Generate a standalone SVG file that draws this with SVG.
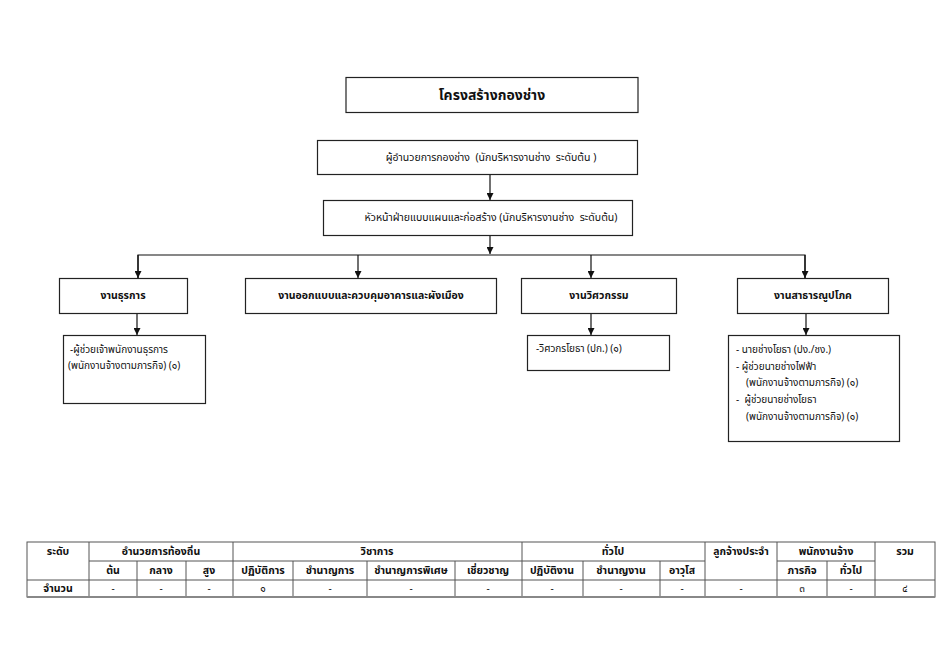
<svg xmlns="http://www.w3.org/2000/svg" width="950" height="672" viewBox="0 0 950 672" xml:space="preserve">
<style>
text{font-family:"Noto Sans Thai","Tahoma","Leelawadee UI","DejaVu Sans","Noto Sans",sans-serif;fill:#111;white-space:pre;}
.box{fill:#fff;stroke:#222;stroke-width:1.2;}
.t{font-size:10.5px;text-anchor:middle;}
.b{font-size:10.5px;font-weight:bold;text-anchor:middle;}
.l{font-size:10px;}
.title{font-size:14px;font-weight:bold;text-anchor:middle;}
.conn{stroke:#111;stroke-width:1.2;fill:none;}
.grid{stroke:#555;stroke-width:1;fill:none;}
.th{font-size:10.5px;font-weight:bold;text-anchor:middle;}
.td{font-size:10px;text-anchor:middle;}
</style>
<defs>
<marker id="arr" viewBox="0 0 10 10" refX="10" refY="5" markerWidth="7" markerHeight="7" markerUnits="userSpaceOnUse" orient="auto">
<path d="M0,0 L10,5 L0,10 z" fill="#111"/>
</marker>
</defs>
<rect width="950" height="672" fill="#fff"/>

<g id="connectors">
<line class="conn" x1="490" y1="174" x2="490" y2="200" marker-end="url(#arr)"/>
<line class="conn" x1="490" y1="235" x2="490" y2="254" marker-end="url(#arr)"/>
<polyline class="conn" points="138,278 138,255 805,255 805,278"/>
<line class="conn" x1="138" y1="255" x2="138" y2="278" marker-end="url(#arr)"/>
<line class="conn" x1="358" y1="255" x2="358" y2="278" marker-end="url(#arr)"/>
<line class="conn" x1="591" y1="255" x2="591" y2="278" marker-end="url(#arr)"/>
<line class="conn" x1="805" y1="255" x2="805" y2="278" marker-end="url(#arr)"/>
<line class="conn" x1="137" y1="313" x2="137" y2="335" marker-end="url(#arr)"/>
<line class="conn" x1="591" y1="313" x2="591" y2="335" marker-end="url(#arr)"/>
<line class="conn" x1="806" y1="313" x2="806" y2="335" marker-end="url(#arr)"/>
</g>

<g id="title">
<rect class="box" x="346" y="77.5" width="292" height="35"/>
<text class="title" x="492" y="100">โครงสร้างกองช่าง</text>
</g>
<g id="director">
<rect class="box" x="317.5" y="140.5" width="320" height="34"/>
<text class="t" x="491" y="161">ผู้อำนวยการกองช่าง  (นักบริหารงานช่าง  ระดับต้น )</text>
</g>
<g id="head">
<rect class="box" x="323.5" y="200.5" width="309" height="35"/>
<text class="t" x="491" y="221">หัวหน้าฝ่ายแบบแผนและก่อสร้าง (นักบริหารงานช่าง  ระดับต้น)</text>
</g>
<g id="admin">
<rect class="box" x="59.5" y="278.5" width="128" height="35"/>
<text class="b" x="123" y="299">งานธุรการ</text>
</g>
<g id="design">
<rect class="box" x="245.5" y="278.5" width="251" height="35"/>
<text class="b" x="371" y="299">งานออกแบบและควบคุมอาคารและผังเมือง</text>
</g>
<g id="engineering">
<rect class="box" x="521.5" y="278.5" width="155" height="35"/>
<text class="b" x="599" y="299">งานวิศวกรรม</text>
</g>
<g id="utilities">
<rect class="box" x="737.5" y="278.5" width="151" height="35"/>
<text class="b" x="813" y="299">งานสาธารณูปโภค</text>
</g>
<g id="admin-staff">
<rect class="box" x="63.5" y="335.5" width="142" height="68"/>
<text class="l" x="70" y="353">-ผู้ช่วยเจ้าพนักงานธุรการ</text>
<text class="l" x="68" y="369">(พนักงานจ้างตามภารกิจ) (๑)</text>
</g>
<g id="eng-staff">
<rect class="box" x="527.5" y="335.5" width="142" height="35"/>
<text class="l" x="536" y="352">-วิศวกรโยธา (ปก.) (๑)</text>
</g>
<g id="util-staff">
<rect class="box" x="728.5" y="335.5" width="171" height="106"/>
<text class="l" x="736" y="353">- นายช่างโยธา (ปง./ชง.)</text>
<text class="l" x="736" y="370">- ผู้ช่วยนายช่างไฟฟ้า</text>
<text class="l" x="746" y="386">(พนักงานจ้างตามภารกิจ) (๑)</text>
<text class="l" x="736" y="403">-  ผู้ช่วยนายช่างโยธา</text>
<text class="l" x="746" y="420">(พนักงานจ้างตามภารกิจ) (๑)</text>
</g>

<g id="table">
<rect class="grid" x="27" y="542" width="908" height="55"/>
<line class="grid" x1="89" y1="561" x2="705" y2="561"/>
<line class="grid" x1="777" y1="561" x2="875" y2="561"/>
<line class="grid" x1="27" y1="580" x2="935" y2="580"/>
<g class="grid">
<line x1="89" y1="542" x2="89" y2="597"/>
<line x1="137" y1="561" x2="137" y2="597"/>
<line x1="186" y1="561" x2="186" y2="597"/>
<line x1="233" y1="542" x2="233" y2="597"/>
<line x1="293" y1="561" x2="293" y2="597"/>
<line x1="367" y1="561" x2="367" y2="597"/>
<line x1="455" y1="561" x2="455" y2="597"/>
<line x1="522" y1="542" x2="522" y2="597"/>
<line x1="583" y1="561" x2="583" y2="597"/>
<line x1="660" y1="561" x2="660" y2="597"/>
<line x1="705" y1="542" x2="705" y2="597"/>
<line x1="777" y1="542" x2="777" y2="597"/>
<line x1="827" y1="561" x2="827" y2="597"/>
<line x1="875" y1="542" x2="875" y2="597"/>
</g>
<line x1="27" y1="597" x2="935" y2="597" stroke="#888" stroke-width="2"/>
<text class="th" x="58" y="555">ระดับ</text>
<text class="th" x="161" y="555">อำนวยการท้องถิ่น</text>
<text class="th" x="377" y="555">วิชาการ</text>
<text class="th" x="613" y="555">ทั่วไป</text>
<text class="th" x="741" y="555">ลูกจ้างประจำ</text>
<text class="th" x="826" y="555">พนักงานจ้าง</text>
<text class="th" x="905" y="555">รวม</text>
<text class="th" x="113" y="574">ต้น</text>
<text class="th" x="161" y="574">กลาง</text>
<text class="th" x="209" y="574">สูง</text>
<text class="th" x="263" y="574">ปฏิบัติการ</text>
<text class="th" x="330" y="574">ชำนาญการ</text>
<text class="th" x="411" y="574">ชำนาญการพิเศษ</text>
<text class="th" x="488" y="574">เชี่ยวชาญ</text>
<text class="th" x="552" y="574">ปฏิบัติงาน</text>
<text class="th" x="621" y="574">ชำนาญงาน</text>
<text class="th" x="682" y="574">อาวุโส</text>
<text class="th" x="802" y="574">ภารกิจ</text>
<text class="th" x="851" y="574">ทั่วไป</text>
<text class="th" x="58" y="592">จำนวน</text>
<text class="td" x="113" y="592">-</text>
<text class="td" x="161" y="592">-</text>
<text class="td" x="209" y="592">-</text>
<text class="td" x="263" y="592">๑</text>
<text class="td" x="330" y="592">-</text>
<text class="td" x="411" y="592">-</text>
<text class="td" x="488" y="592">-</text>
<text class="td" x="552" y="592">-</text>
<text class="td" x="621" y="592">-</text>
<text class="td" x="682" y="592">-</text>
<text class="td" x="741" y="592">-</text>
<text class="td" x="802" y="592">๓</text>
<text class="td" x="851" y="592">-</text>
<text class="td" x="905" y="592">๔</text>
</g>
</svg>
